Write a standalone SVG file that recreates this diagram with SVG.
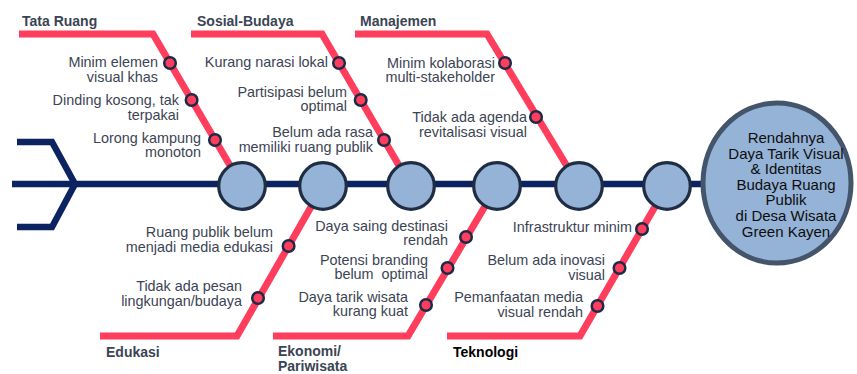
<svg xmlns="http://www.w3.org/2000/svg" width="857" height="374" viewBox="0 0 857 374">
<style>
.bone{fill:none;stroke:#ff3d5d;stroke-width:7;stroke-linejoin:miter}
.spine{fill:none;stroke:#0b2361;stroke-width:6.5;stroke-linejoin:miter}
.mk{fill:#ff3d5d;stroke:#1c2a48;stroke-width:2.5}
.jn{fill:#95b3d7;stroke:#1f2d44;stroke-width:3.2}
.head{fill:#95b3d7;stroke:#44546a;stroke-width:5}
.cause{font-family:"Liberation Sans",Arial,sans-serif;font-size:14.4px;fill:#3b4454;text-anchor:end;white-space:pre}
.cat{font-family:"Liberation Sans",Arial,sans-serif;font-size:14px;font-weight:bold;fill:#3b4454}
.ht{font-family:"Liberation Sans",Arial,sans-serif;font-size:15px;fill:#0d0d0d;text-anchor:middle}
</style>
<g id="connectors">
<path class="spine" d="M12,184 H705"/>
<path class="spine" d="M17,142 H52 L75,184 L52,227 H17"/>
<path class="bone" d="M19,34 H153 L242,186"/>
<path class="bone" d="M191,34 H322 L411,186"/>
<path class="bone" d="M355,34 H487 L579,186"/>
<path class="bone" d="M100,336 H237 L323,186"/>
<path class="bone" d="M273,336 H408 L497,186"/>
<path class="bone" d="M447,336 H580 L667,186"/>
</g>
<g id="junctions">
<circle class="jn" cx="242" cy="186" r="23.3"/>
<circle class="jn" cx="323" cy="186" r="23.3"/>
<circle class="jn" cx="411" cy="186" r="23.3"/>
<circle class="jn" cx="497" cy="186" r="23.3"/>
<circle class="jn" cx="579" cy="186" r="23.3"/>
<circle class="jn" cx="667" cy="186" r="23.3"/>
</g>
<g id="head">
<ellipse class="head" cx="777" cy="183" rx="74" ry="80"/>
<text class="ht" x="786" y="143">Rendahnya</text>
<text class="ht" x="786" y="158.5">Daya Tarik Visual</text>
<text class="ht" x="786" y="174">&amp; Identitas</text>
<text class="ht" x="786" y="189.5">Budaya Ruang</text>
<text class="ht" x="786" y="205">Publik</text>
<text class="ht" x="786" y="221">di Desa Wisata</text>
<text class="ht" x="786" y="236.5">Green Kayen</text>
</g>
<g id="cat-tata-ruang"><text class="cat" x="22" y="26">Tata Ruang</text></g>
<g id="cat-sosial-budaya"><text class="cat" x="197" y="26">Sosial-Budaya</text></g>
<g id="cat-manajemen"><text class="cat" x="360" y="26">Manajemen</text></g>
<g id="cat-edukasi"><text class="cat" x="106" y="357">Edukasi</text></g>
<g id="cat-ekonomi"><text class="cat" x="278" y="355.5">Ekonomi/<tspan x="278" y="370.5">Pariwisata</tspan></text></g>
<g id="cat-teknologi"><text class="cat" x="453" y="357" style="fill:#000">Teknologi</text></g>

<g id="c1"><circle class="mk" cx="170" cy="63" r="5.8"/><text class="cause" x="158" y="67">Minim elemen<tspan x="158" y="81.5">visual khas</tspan></text></g>
<g id="c2"><circle class="mk" cx="191.6" cy="100" r="5.8"/><text class="cause" x="179" y="105">Dinding kosong, tak<tspan x="179" y="119.5">terpakai</tspan></text></g>
<g id="c3"><circle class="mk" cx="215" cy="140" r="5.8"/><text class="cause" x="201" y="142.5">Lorong kampung<tspan x="201" y="157">monoton</tspan></text></g>

<g id="c4"><circle class="mk" cx="339" cy="63" r="5.8"/><text class="cause" x="328" y="67">Kurang narasi lokal</text></g>
<g id="c5"><circle class="mk" cx="360.7" cy="100" r="5.8"/><text class="cause" x="347" y="96.5">Partisipasi belum<tspan x="347" y="111">optimal</tspan></text></g>
<g id="c6"><circle class="mk" cx="384" cy="140" r="5.8"/><text class="cause" x="373" y="137">Belum ada rasa<tspan x="373" y="151.5">memiliki ruang publik</tspan></text></g>

<g id="c7"><circle class="mk" cx="505" cy="63" r="5.8"/><text class="cause" x="495" y="67.5">Minim kolaborasi<tspan x="495" y="82">multi-stakeholder</tspan></text></g>
<g id="c8"><circle class="mk" cx="536" cy="117" r="5.8"/><text class="cause" x="527" y="122">Tidak ada agenda<tspan x="527" y="136.5">revitalisasi visual</tspan></text></g>

<g id="c9"><circle class="mk" cx="288.6" cy="246" r="5.8"/><text class="cause" x="273" y="237">Ruang publik belum<tspan x="273" y="251.5">menjadi media edukasi</tspan></text></g>
<g id="c10"><circle class="mk" cx="258" cy="298" r="5.8"/><text class="cause" x="242" y="291">Tidak ada pesan<tspan x="242" y="305.5">lingkungan/budaya</tspan></text></g>

<g id="c11"><circle class="mk" cx="466" cy="237" r="5.8"/><text class="cause" x="448" y="230.5">Daya saing destinasi<tspan x="448" y="245">rendah</tspan></text></g>
<g id="c12"><circle class="mk" cx="447.5" cy="268" r="5.8"/><text class="cause" x="428" y="264.5">Potensi branding<tspan x="428" y="279">belum  optimal</tspan></text></g>
<g id="c13"><circle class="mk" cx="426" cy="305" r="5.8"/><text class="cause" x="408" y="301.5">Daya tarik wisata<tspan x="408" y="316">kurang kuat</tspan></text></g>

<g id="c14"><circle class="mk" cx="642" cy="229" r="5.8"/><text class="cause" x="632" y="231.5">Infrastruktur minim</text></g>
<g id="c15"><circle class="mk" cx="619.5" cy="268" r="5.8"/><text class="cause" x="605" y="265">Belum ada inovasi<tspan x="605" y="280">visual</tspan></text></g>
<g id="c16"><circle class="mk" cx="597.5" cy="306" r="5.8"/><text class="cause" x="583" y="302">Pemanfaatan media<tspan x="583" y="316.5">visual rendah</tspan></text></g>
</svg>
